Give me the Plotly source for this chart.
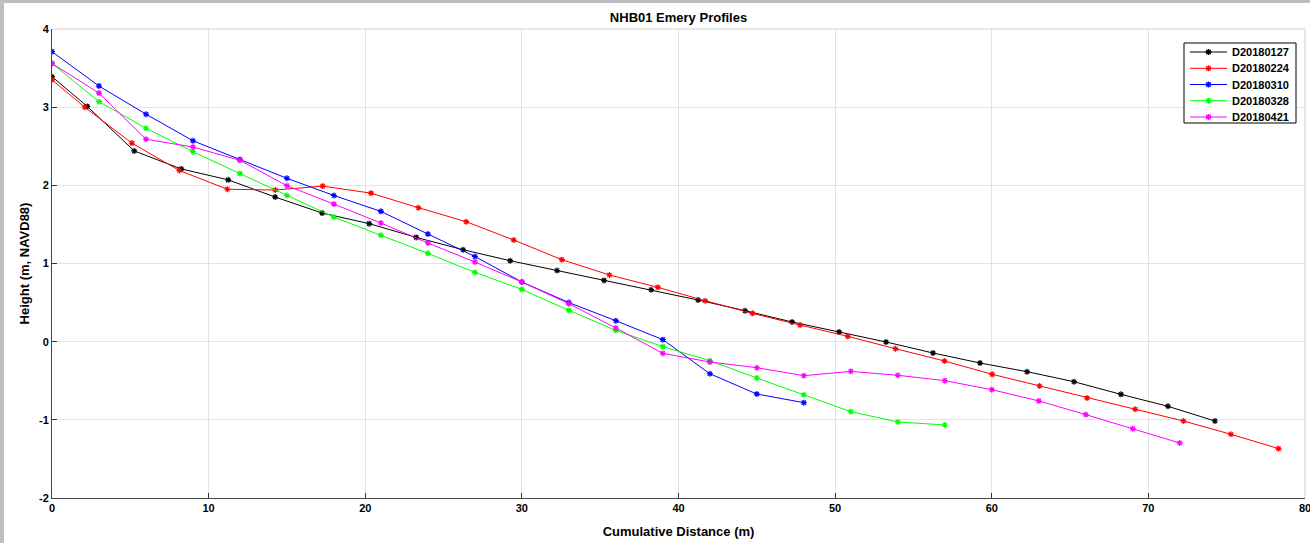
import plotly.graph_objects as go

# ---- data ----
names = ["D20180127", "D20180224", "D20180310", "D20180328", "D20180421"]
colors = ["#000000", "#ff0000", "#0000ff", "#00ff00", "#ff00ff"]

x_127 = [0, 2.25, 5.25, 8.25, 11.25, 14.25, 17.25, 20.25, 23.25, 26.25, 29.25, 32.25, 35.25,
         38.25, 41.25, 44.25, 47.25, 50.25, 53.25, 56.25, 59.25, 62.25, 65.25, 68.25, 71.25, 74.25]
y_127 = [3.39, 3.01, 2.44, 2.21, 2.07, 1.85, 1.645, 1.51, 1.334, 1.176, 1.036, 0.91, 0.784,
         0.665, 0.533, 0.396, 0.252, 0.124, -0.004, -0.145, -0.273, -0.384, -0.512, -0.674, -0.827, -1.015]

x_224 = [0, 2.09, 5.1, 8.13, 11.2, 14.26, 17.28, 20.37, 23.39, 26.44, 29.48, 32.55, 35.59,
         38.68, 41.7, 44.72, 47.76, 50.81, 53.85, 56.98, 60.03, 63.05, 66.09, 69.16, 72.24, 75.27, 78.31]
y_224 = [3.35, 3.0, 2.54, 2.19, 1.95, 1.94, 1.99, 1.90, 1.714, 1.535, 1.30, 1.049, 0.853,
         0.695, 0.524, 0.362, 0.213, 0.068, -0.09, -0.247, -0.418, -0.567, -0.72, -0.865, -1.015, -1.185, -1.368]

x_310 = [0, 3, 6, 9, 12, 15, 18, 21, 24, 27, 30, 33, 36, 39, 42, 45, 48]
y_310 = [3.71, 3.27, 2.91, 2.57, 2.33, 2.09, 1.87, 1.667, 1.377, 1.09, 0.763, 0.50, 0.268,
         0.026, -0.41, -0.67, -0.78]

x_328 = [0, 3, 6, 9, 12, 15, 18, 21, 24, 27, 30, 33, 36, 39, 42, 45, 48, 51, 54, 57]
y_328 = [3.56, 3.07, 2.73, 2.43, 2.15, 1.87, 1.594, 1.36, 1.13, 0.886, 0.669, 0.40, 0.145,
         -0.064, -0.243, -0.465, -0.68, -0.895, -1.027, -1.066]

x_421 = [0, 3, 6, 9, 12, 15, 18, 21, 24, 27, 30, 33, 36, 39, 42, 45, 48, 51, 54, 57, 60,
         63, 66, 69, 72]
y_421 = [3.56, 3.18, 2.59, 2.49, 2.32, 1.995, 1.76, 1.518, 1.262, 1.019, 0.763, 0.486, 0.175,
         -0.15, -0.26, -0.333, -0.435, -0.38, -0.43, -0.499, -0.614, -0.758, -0.933, -1.113, -1.296]

series_x = [x_127, x_224, x_310, x_328, x_421]
series_y = [y_127, y_224, y_310, y_328, y_421]

x_ticks = [0, 10, 20, 30, 40, 50, 60, 70, 80]
y_ticks = [-2, -1, 0, 1, 2, 3, 4]
y_tick_labels = ["-2", "-1", "0", "1", "2", "3", "4"]

FONT = "Liberation Sans, Arial, Helvetica, sans-serif"

# plot-area geometry in pixels (for the hand-built MATLAB-style legend)
W, H = 1310, 543
ML, MR, MT, MB = 52, 5, 29, 45
PW, PH = W - ML - MR, H - MT - MB


def px(xp):
    return (xp - ML) / PW


def py(yp):
    return (H - MB - yp) / PH


fig = go.Figure()
for n, c, xs, ys in zip(names, colors, series_x, series_y):
    fig.add_trace(go.Scatter(
        x=xs, y=ys, name=n, mode="lines+markers",
        line=dict(color=c, width=1),
        marker=dict(symbol="asterisk-open", size=5, color=c, line=dict(color=c, width=1.2)),
    ))

shapes = [
    # light top/right axes box edges
    dict(type="line", xref="paper", yref="paper", x0=0, x1=1, y0=1, y1=1,
         line=dict(color="#d0d0d0", width=1)),
    dict(type="line", xref="paper", yref="paper", x0=1, x1=1, y0=0, y1=1,
         line=dict(color="#d0d0d0", width=1)),
    # gray window frame (top and left bands)
    dict(type="rect", xref="paper", yref="paper", x0=px(-10), x1=px(W + 10),
         y0=py(3), y1=py(-5), fillcolor="#bebebe", line=dict(width=0), layer="above"),
    dict(type="rect", xref="paper", yref="paper", x0=px(-8), x1=px(4),
         y0=py(H + 10), y1=py(-5), fillcolor="#bebebe", line=dict(width=0), layer="above"),
    # legend box
    dict(type="rect", xref="paper", yref="paper", x0=px(1184), x1=px(1296),
         y0=py(123), y1=py(43), fillcolor="white", line=dict(color="black", width=1), layer="above"),
]
annotations = []
row_y = [52, 68.3, 84.5, 100.7, 117]
ast = "M-3,0 L3,0 M0,-3 L0,3 M-2.2,-2.2 L2.2,2.2 M-2.2,2.2 L2.2,-2.2"
for n, c, ry in zip(names, colors, row_y):
    shapes.append(dict(type="line", xref="paper", yref="paper", x0=px(1190), x1=px(1227),
                       y0=py(ry), y1=py(ry), line=dict(color=c, width=1), layer="above"))
    shapes.append(dict(type="path", xref="paper", yref="paper", xsizemode="pixel", ysizemode="pixel",
                       xanchor=px(1208.5), yanchor=py(ry), path=ast,
                       line=dict(color=c, width=1.3), layer="above"))
    annotations.append(dict(text="<b>%s</b>" % n, xref="paper", yref="paper", x=px(1230), y=py(ry),
                            xanchor="left", yanchor="middle", showarrow=False,
                            font=dict(size=11, family=FONT, color="black")))

fig.update_layout(
    width=W, height=H,
    margin=dict(l=ML, r=MR, t=MT, b=MB),
    paper_bgcolor="white", plot_bgcolor="white",
    font=dict(family=FONT, color="black", size=11),
    title=dict(text="<b>NHB01 Emery Profiles</b>", x=(ML + W - MR) / 2 / W, xanchor="center",
               y=1 - 17 / H, yanchor="middle", font=dict(size=13, family=FONT, color="black")),
    showlegend=False,
    xaxis=dict(range=[0, 80], tickvals=x_ticks, showgrid=True, gridcolor="#e3e3e3", gridwidth=1,
               zeroline=False, showline=True, linecolor="#444444", linewidth=1, mirror=False,
               ticks="inside", ticklen=5, tickcolor="#333333", ticklabeloverflow="allow",
               automargin=False,
               tickfont=dict(size=11, family=FONT, color="black", weight="bold"),
               title=dict(text="<b>Cumulative Distance (m)</b>", font=dict(size=13, family=FONT, color="black"),
                          standoff=13)),
    yaxis=dict(range=[-2, 4], tickvals=y_ticks, ticktext=y_tick_labels, showgrid=True,
               gridcolor="#e3e3e3", gridwidth=1,
               zeroline=False, showline=True, linecolor="#444444", linewidth=1, mirror=False,
               ticks="inside", ticklen=5, tickcolor="#333333",
               tickfont=dict(size=11, family=FONT, color="black", weight="bold"),
               title=dict(text="<b>Height (m, NAVD88)</b>", font=dict(size=13, family=FONT, color="black"),
                          standoff=6)),
    shapes=shapes,
    annotations=annotations,
)

fig.write_html("out.html")
